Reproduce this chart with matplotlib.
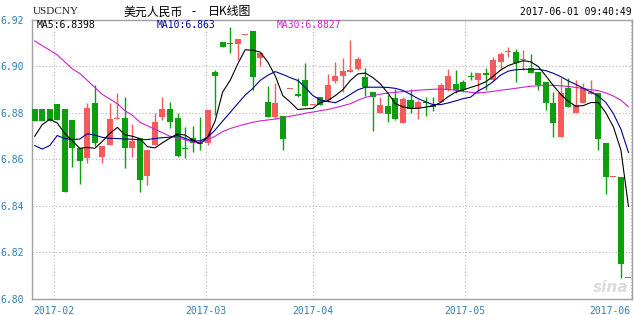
import matplotlib
matplotlib.use("Agg")
import matplotlib.pyplot as plt
import numpy as np

# daily candles, USDCNY, mid-Jan .. 2017-06-01
opens = [6.8816, 6.8816, 6.8816, 6.8839, 6.8816, 6.8770, 6.8648, 6.8605, 6.8844, 6.8612,
         6.8662, 6.8773, 6.8777, 6.8648, 6.8691, 6.8530, 6.8662, 6.8784, 6.8816, 6.8777,
         6.8651, 6.8691, 6.8672, 6.8672, 6.8978, 6.9104, 6.9097, 6.9097, 6.9134, 6.9153,
         6.9035, 6.8846, 6.8781, 6.8788, 6.8903, 6.8882, 6.8942, 6.8834, 6.8870, 6.8856,
         6.8938, 6.8959, 6.8978, 6.8988, 6.8953, 6.8889, 6.8801, 6.8830, 6.8863, 6.8758,
         6.8856, 6.8820, 6.8849, 6.8834, 6.8849, 6.8899, 6.8923, 6.8935, 6.8959, 6.8942,
         6.8971, 6.8942, 6.9021, 6.9062, 6.9061, 6.9027, 6.8992, 6.8978, 6.8935, 6.8844,
         6.8698, 6.8906, 6.8798, 6.8841, 6.8882, 6.8887, 6.8669, 6.8526, 6.8526, 6.8089]
highs = [6.8816, 6.8816, 6.8816, 6.8839, 6.8816, 6.8770, 6.8648, 6.8842, 6.8920, 6.8658,
         6.8844, 6.8887, 6.8867, 6.8753, 6.8691, 6.8641, 6.8801, 6.8867, 6.8849, 6.8798,
         6.8738, 6.8744, 6.8784, 6.8813, 6.8985, 6.9104, 6.9171, 6.9118, 6.9136, 6.9153,
         6.9057, 6.8916, 6.8930, 6.8788, 6.8904, 6.8949, 6.9016, 6.8835, 6.8870, 6.8968,
         6.9021, 6.9035, 6.9114, 6.9042, 6.8992, 6.8889, 6.8867, 6.8877, 6.8902, 6.8870,
         6.8903, 6.8856, 6.8867, 6.8867, 6.8930, 6.8988, 6.8985, 6.8942, 6.8978, 6.8971,
         6.8992, 6.9039, 6.9064, 6.9082, 6.9074, 6.9071, 6.9054, 6.8978, 6.8935, 6.8892,
         6.8949, 6.8949, 6.8942, 6.8928, 6.8942, 6.8887, 6.8669, 6.8528, 6.8526, 6.8092]
lows = [6.8767, 6.8767, 6.8767, 6.8770, 6.8462, 6.8566, 6.8494, 6.8586, 6.8660, 6.8586,
        6.8662, 6.8773, 6.8562, 6.8609, 6.8462, 6.8490, 6.8662, 6.8770, 6.8734, 6.8612,
        6.8605, 6.8634, 6.8641, 6.8662, 6.8791, 6.9085, 6.9057, 6.9030, 6.9134, 6.8900,
        6.9002, 6.8784, 6.8774, 6.8641, 6.8903, 6.8870, 6.8830, 6.8834, 6.8834, 6.8849,
        6.8928, 6.8892, 6.8978, 6.8985, 6.8873, 6.8724, 6.8798, 6.8763, 6.8770, 6.8758,
        6.8801, 6.8773, 6.8788, 6.8810, 6.8849, 6.8896, 6.8885, 6.8892, 6.8942, 6.8885,
        6.8899, 6.8938, 6.8985, 6.9042, 6.8935, 6.8985, 6.8971, 6.8899, 6.8813, 6.8698,
        6.8698, 6.8824, 6.8798, 6.8841, 6.8882, 6.8641, 6.8451, 6.8526, 6.8089, 6.8089]
closes = [6.8767, 6.8767, 6.8767, 6.8770, 6.8462, 6.8648, 6.8595, 6.8821, 6.8672, 6.8658,
          6.8773, 6.8780, 6.8648, 6.8681, 6.8512, 6.8641, 6.8763, 6.8816, 6.8763, 6.8615,
          6.8645, 6.8672, 6.8667, 6.8813, 6.8959, 6.9085, 6.9095, 6.9118, 6.9136, 6.8953,
          6.9057, 6.8784, 6.8844, 6.8687, 6.8904, 6.8873, 6.8830, 6.8835, 6.8834, 6.8920,
          6.8959, 6.8982, 6.8985, 6.9032, 6.8913, 6.8867, 6.8834, 6.8796, 6.8773, 6.8859,
          6.8816, 6.8849, 6.8844, 6.8824, 6.8920, 6.8959, 6.8899, 6.8899, 6.8953, 6.8971,
          6.8963, 6.9028, 6.9052, 6.9064, 6.9014, 6.9029, 6.8973, 6.8920, 6.8842, 6.8755,
          6.8885, 6.8824, 6.8834, 6.8906, 6.8892, 6.8687, 6.8523, 6.8528, 6.8150, 6.8092]

# moving averages as shown on the chart
ma5 = [6.8700, 6.8750, 6.8773, 6.8757, 6.8712, 6.8680, 6.8648, 6.8652, 6.8648, 6.8678,
       6.8712, 6.8738, 6.8706, 6.8700, 6.8690, 6.8655, 6.8650, 6.8672, 6.8692, 6.8710,
       6.8705, 6.8685, 6.8668, 6.8695, 6.8765, 6.8890, 6.8940, 6.9010, 6.9072, 6.9070,
       6.9062, 6.9020, 6.8960, 6.8875, 6.8847, 6.8815, 6.8818, 6.8820, 6.8845, 6.8853,
       6.8875, 6.8900, 6.8940, 6.8968, 6.8972, 6.8952, 6.8925, 6.8885, 6.8840, 6.8826,
       6.8820, 6.8820, 6.8825, 6.8830, 6.8845, 6.8870, 6.8890, 6.8899, 6.8910, 6.8920,
       6.8934, 6.8958, 6.8985, 6.9004, 6.9015, 6.9025, 6.9020, 6.9000, 6.8960, 6.8918,
       6.8880, 6.8850, 6.8829, 6.8832, 6.8845, 6.8845, 6.8800, 6.8740, 6.8640, 6.8398]
ma10 = [6.8660, 6.8645, 6.8660, 6.8703, 6.8690, 6.8686, 6.8688, 6.8711, 6.8705, 6.8695,
        6.8691, 6.8690, 6.8688, 6.8687, 6.8685, 6.8686, 6.8690, 6.8694, 6.8696, 6.8703,
        6.8691, 6.8680, 6.8680, 6.8695, 6.8727, 6.8765, 6.8802, 6.8840, 6.8877, 6.8905,
        6.8940, 6.8962, 6.8978, 6.8966, 6.8952, 6.8940, 6.8910, 6.8875, 6.8856, 6.8850,
        6.8844, 6.8860, 6.8880, 6.8900, 6.8911, 6.8911, 6.8911, 6.8910, 6.8906, 6.8897,
        6.8880, 6.8862, 6.8848, 6.8836, 6.8836, 6.8843, 6.8852, 6.8862, 6.8868, 6.8895,
        6.8912, 6.8935, 6.8963, 6.8980, 6.8986, 6.8988, 6.8988, 6.8988, 6.8982, 6.8971,
        6.8956, 6.8938, 6.8923, 6.8906, 6.8890, 6.8873, 6.8845, 6.8797, 6.8730, 6.8630]
ma30 = [6.9110, 6.9090, 6.9070, 6.9050, 6.9020, 6.8990, 6.8970, 6.8940, 6.8910, 6.8880,
        6.8860, 6.8840, 6.8810, 6.8790, 6.8760, 6.8745, 6.8730, 6.8715, 6.8700, 6.8693,
        6.8685, 6.8675, 6.8672, 6.8685, 6.8700, 6.8720, 6.8733, 6.8743, 6.8752, 6.8760,
        6.8766, 6.8770, 6.8774, 6.8780, 6.8786, 6.8792, 6.8799, 6.8804, 6.8810, 6.8815,
        6.8823, 6.8831, 6.8840, 6.8855, 6.8867, 6.8875, 6.8881, 6.8886, 6.8889, 6.8892,
        6.8895, 6.8898, 6.8900, 6.8902, 6.8903, 6.8901, 6.8898, 6.8893, 6.8889, 6.8886,
        6.8889, 6.8893, 6.8898, 6.8902, 6.8906, 6.8911, 6.8915, 6.8917, 6.8919, 6.8919,
        6.8917, 6.8914, 6.8910, 6.8905, 6.8900, 6.8896, 6.8886, 6.8873, 6.8855, 6.8827]

month_pos = [2.6, 22.75, 37.0, 57.2, 79.3]
month_labels = ["2017-02", "2017-03", "2017-04", "2017-05", "2017-06"]
yticks = [6.80, 6.82, 6.84, 6.86, 6.88, 6.90, 6.92]

RED = "#f45b5b"
GREEN = "#0d9e0d"
BLUE_TXT = "#2f80b8"

o = np.array(opens)
c = np.array(closes)
x = np.arange(len(o))
up = c >= o
colors = np.where(up, RED, GREEN)

fig = plt.figure(figsize=(6.34, 3.15), dpi=100)
ax = fig.add_axes([32.3 / 634, 16 / 315, 599.4 / 634, 279 / 315])

# wicks then bodies
ax.vlines(x, lows, highs, colors=colors, linewidth=1.0, zorder=2)
bottoms = np.minimum(o, c)
heights = np.maximum(np.abs(c - o), 0.0004)
ax.bar(x, heights, bottom=bottoms, width=0.8, color=colors, linewidth=0, zorder=3)

ax.plot(x, ma30, color="#cc22cc", linewidth=0.8, zorder=4)
ax.plot(x, ma10, color="#000099", linewidth=0.8, zorder=5)
ax.plot(x, ma5, color="black", linewidth=0.8, zorder=6)

ax.set_xlim(-0.32, 79.43)
ax.set_ylim(6.80, 6.92)
ax.set_yticks(yticks)
ax.set_yticklabels([f"{v:.2f}" for v in yticks])
ax.set_xticks(month_pos)
ax.set_xticklabels(month_labels)
ax.tick_params(length=0, colors=BLUE_TXT, labelsize=7)
ax.tick_params(axis="y", pad=6)
ax.tick_params(axis="x", pad=5)
for t in ax.get_xticklabels() + ax.get_yticklabels():
    t.set_family("DejaVu Sans Mono")
ax.get_xticklabels()[-1].set_ha("right")

ax.grid(True, color="#b8b8b8", linestyle=(0, (1, 2)), linewidth=0.8)
ax.set_axisbelow(True)
for s in ax.spines.values():
    s.set_color("#a0a0a0")
    s.set_linewidth(1.0)

# MA legend inside the plot
mono = "DejaVu Sans Mono"
ax.text(37 / 634, 1 - 25 / 315, "MA5:6.8398", transform=fig.transFigure, color="black",
        fontsize=7, family=mono, va="center")
ax.text(157 / 634, 1 - 25 / 315, "MA10:6.863", transform=fig.transFigure, color="#0000aa",
        fontsize=7, family=mono, va="center")
ax.text(277 / 634, 1 - 25 / 315, "MA30:6.8827", transform=fig.transFigure, color="#cc22cc",
        fontsize=7, family=mono, va="center")

# header
cjk = ["Noto Sans CJK SC", "DejaVu Sans"]
fig.text(33 / 634, 1 - 12 / 315, "USDCNY", fontsize=8,
         family=["Liberation Sans Narrow", "Liberation Serif"], color="#222222", va="center")
fig.text(123 / 634, 1 - 12 / 315, "美元人民币", fontsize=8.6, family=cjk,
         color="black", va="center")
fig.text(194 / 634, 1 - 12 / 315, "-", fontsize=8.6, family=cjk,
         color="black", va="center", ha="center")
fig.text(208 / 634, 1 - 12 / 315, "日K线图", fontsize=8.6, family=cjk,
         color="black", va="center")
fig.text(632 / 634, 1 - 12 / 315, "2017-06-01 09:40:49", fontsize=7, family=mono,
         color="black", va="center", ha="right")

# faint watermark
fig.text(628 / 634, 1 - 288 / 315, "sina", fontsize=11, style="italic", weight="bold",
         color="#dcdcdc", ha="right", va="center", zorder=1)

fig.savefig("out.png", dpi=100)
